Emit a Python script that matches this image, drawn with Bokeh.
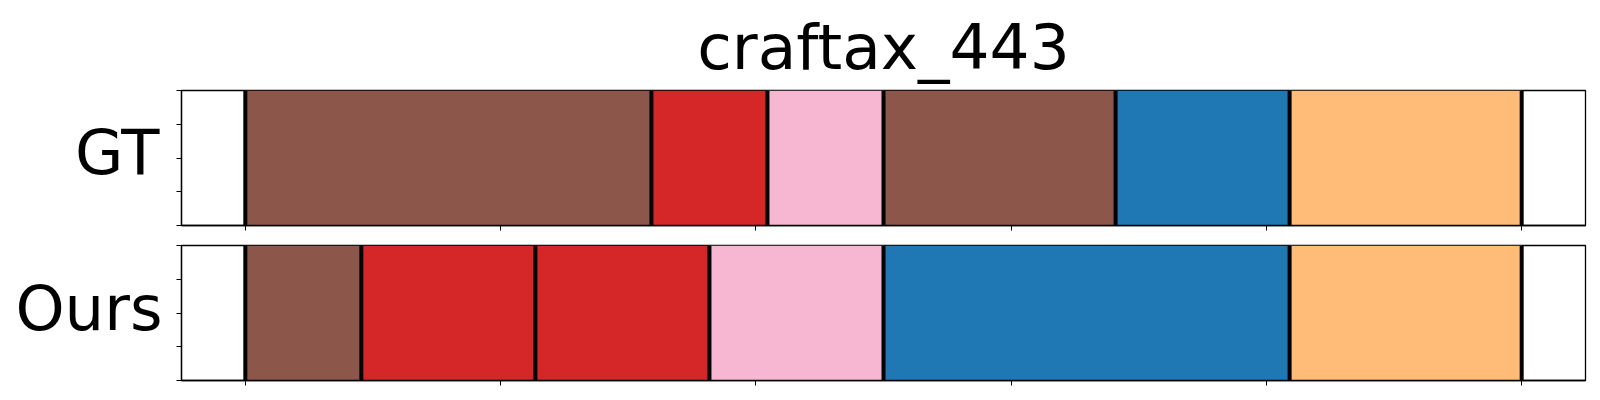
from bokeh.plotting import figure
from bokeh.layouts import column
from bokeh.models import (Range1d, FixedTicker, CustomJSTickFormatter, Title,
                          LinearAxis)
from bokeh.embed import file_html
from bokeh.resources import INLINE

# ---- data ----
title_text = "craftax_443"
row_names = ["GT", "Ours"]

gt_start = [0, 7, 9, 11, 15, 18]
gt_end = [7, 9, 11, 15, 18, 22]
gt_color = ["#8c564b", "#d62728", "#f7b6d2", "#8c564b", "#1f77b4", "#ffbb78"]

ours_start = [0, 2, 5, 8, 11, 18]
ours_end = [2, 5, 8, 11, 18, 22]
ours_color = ["#8c564b", "#d62728", "#d62728", "#f7b6d2", "#1f77b4", "#ffbb78"]

total_len = 22
x_ticks = [total_len * i / 5 for i in range(6)]
y_ticks = [0, 0.25, 0.5, 0.75, 1.0]

FONT = "DejaVu Sans"
margin = 0.05 * total_len
FRAME_H = 135


def make_row(starts, ends, colors, name, top_border, bottom_border,
             label_lift, label_standoff, title=None):
    p = figure(
        frame_width=1404, frame_height=FRAME_H,
        min_border_left=181, min_border_right=14,
        min_border_top=top_border, min_border_bottom=bottom_border,
        x_range=Range1d(-margin, total_len + margin), y_range=Range1d(0, 1),
        output_backend="svg", toolbar_location=None,
    )
    if title is not None:
        p.title = Title(text=title, align="center", text_font=FONT,
                        text_font_size="63px", text_font_style="normal",
                        text_color="black", standoff=13, offset=0)
    else:
        p.title.visible = False
    p.grid.visible = False
    p.background_fill_color = "white"
    p.border_fill_color = "white"
    p.outline_line_color = "black"
    p.outline_line_width = 1.3
    for ax in (p.xaxis[0], p.yaxis[0]):
        ax.formatter = CustomJSTickFormatter(code="return ''")
        ax.major_label_standoff = 0
        ax.major_tick_out = 5
        ax.major_tick_in = 0
        ax.minor_tick_out = 0
        ax.minor_tick_in = 0
        ax.major_tick_line_color = "black"
        ax.major_tick_line_width = 1
        ax.axis_line_color = "black"
        ax.axis_line_width = 1.3
    p.xaxis[0].ticker = FixedTicker(ticks=x_ticks)
    p.yaxis[0].ticker = FixedTicker(ticks=y_ticks)

    # row name: a second left axis carrying a single label, no tick marks
    name_axis = LinearAxis(
        ticker=FixedTicker(ticks=[0.5 + label_lift / FRAME_H]),
        formatter=CustomJSTickFormatter(args=dict(name=name), code="return name"),
        axis_line_color=None, major_tick_line_color=None, minor_tick_line_color=None,
        major_tick_out=0, major_tick_in=0, minor_tick_out=0, minor_tick_in=0,
        major_label_standoff=label_standoff,
        major_label_text_font=FONT, major_label_text_font_size="62.5px",
        major_label_text_font_style="normal", major_label_text_color="black",
    )
    p.add_layout(name_axis, "left")

    p.quad(left=starts, right=ends, bottom=0, top=1, fill_color=colors,
           line_color=None)
    bounds = list(starts) + [ends[-1]]
    p.segment(x0=bounds, x1=bounds, y0=[0] * len(bounds), y1=[1] * len(bounds),
              line_color="black", line_width=4)
    return p


p1 = make_row(gt_start, gt_end, gt_color, row_names[0], 90, 10,
              label_lift=6, label_standoff=17, title=title_text)
p2 = make_row(ours_start, ours_end, ours_color, row_names[1], 10, 10,
              label_lift=5, label_standoff=14)

layout = column(p1, p2)
open("out.html", "w").write(file_html(layout, INLINE))
